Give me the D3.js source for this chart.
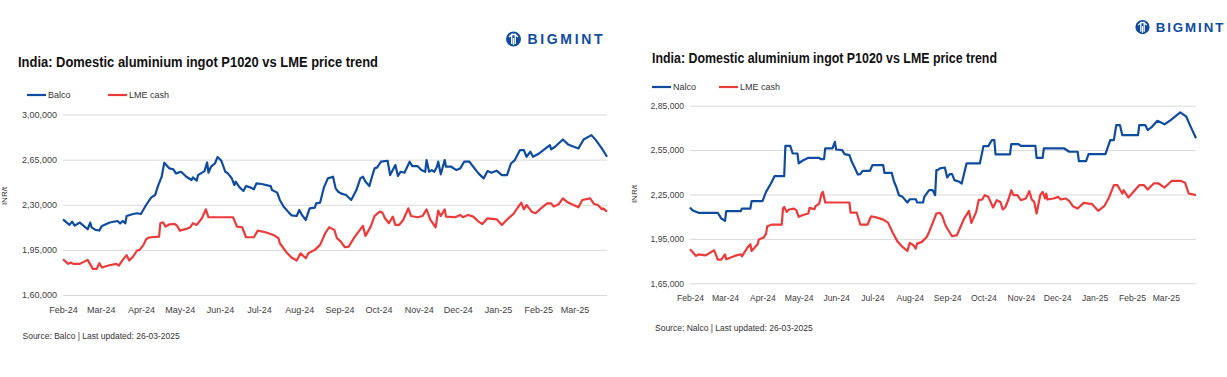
<!DOCTYPE html>
<html>
<head>
<meta charset="utf-8">
<script src="https://cdn.jsdelivr.net/npm/d3@7"></script>
<style>
  body { margin: 0; background: #fff; }
  svg { display: block; font-family: "Liberation Sans", Arial, sans-serif; }
</style>
</head>
<body>
<div id="chart"></div>
<script>
// ---- data ----
const balcoSeries = [
  ["2024-02-01",218700],["2024-02-06",214400],["2024-02-08",216900],["2024-02-10",213800],["2024-02-14",216200],
  ["2024-02-20",211000],["2024-02-22",216200],["2024-02-23",212500],["2024-02-26",210500],["2024-02-29",210000],
  ["2024-03-02",213600],["2024-03-08",216200],["2024-03-14",217400],["2024-03-16",215600],["2024-03-18",217400],
  ["2024-03-20",215600],["2024-03-21",221300],["2024-03-26",222850],["2024-03-29",223400],["2024-04-01",222850],
  ["2024-04-05",229800],["2024-04-09",235750],["2024-04-12",237600],["2024-04-14",244000],["2024-04-17",251750],
  ["2024-04-19",262600],["2024-04-23",258200],["2024-04-26",257400],["2024-04-28",254300],["2024-05-02",255600],
  ["2024-05-06",251750],["2024-05-10",249200],["2024-05-11",251200],["2024-05-14",248650],["2024-05-15",253000],
  ["2024-05-20",256100],["2024-05-22",262800],["2024-05-23",254850],["2024-05-25",259500],["2024-05-28",262000],
  ["2024-05-30",267000],["2024-06-02",264100],["2024-06-05",255600],["2024-06-07",254300],["2024-06-10",250450],
  ["2024-06-12",245300],["2024-06-13",247900],["2024-06-16",243500],["2024-06-19",240700],["2024-06-21",244500],
  ["2024-06-24",243500],["2024-06-27",242000],["2024-06-29",246600],["2024-07-03",246100],["2024-07-10",244500],
  ["2024-07-11",241400],["2024-07-15",239400],["2024-07-17",233700],["2024-07-20",228500],["2024-07-24",223900],
  ["2024-07-26",221800],["2024-07-30",221300],["2024-08-01",226000],["2024-08-03",222100],["2024-08-06",218200],
  ["2024-08-09",227250],["2024-08-13",227800],["2024-08-14",231100],["2024-08-17",231600],["2024-08-20",243500],
  ["2024-08-23",250450],["2024-08-27",251750],["2024-08-29",242700],["2024-08-31",240100],["2024-09-02",238850],
  ["2024-09-06",237600],["2024-09-10",233700],["2024-09-14",241400],["2024-09-17",250450],["2024-09-19",251750],
  ["2024-09-21",247900],["2024-09-24",244500],["2024-09-26",251750],["2024-09-28",258200],["2024-09-30",259000],
  ["2024-10-03",263400],["2024-10-08",264100],["2024-10-10",253000],["2024-10-12",256900],["2024-10-14",260800],
  ["2024-10-16",252300],["2024-10-18",255600],["2024-10-21",254850],["2024-10-25",263400],["2024-10-27",260000],
  ["2024-10-31",260000],["2024-11-03",256900],["2024-11-06",255600],["2024-11-07",264650],["2024-11-09",255600],
  ["2024-11-11",256900],["2024-11-13",255600],["2024-11-15",259500],["2024-11-16",263400],["2024-11-18",253600],
  ["2024-11-21",264650],["2024-11-22",259500],["2024-11-26",259500],["2024-11-30",256900],["2024-12-03",258200],
  ["2024-12-06",263400],["2024-12-10",263400],["2024-12-13",259500],["2024-12-17",254300],["2024-12-21",250450],
  ["2024-12-24",256100],["2024-12-27",254850],["2024-12-31",256400],["2025-01-04",253000],["2025-01-08",253000],
  ["2025-01-11",262000],["2025-01-14",264650],["2025-01-18",272400],["2025-01-21",272400],["2025-01-23",267200],
  ["2025-01-26",271100],["2025-01-28",267200],["2025-02-01",269300],["2025-02-05",272400],["2025-02-10",276250],
  ["2025-02-11",272900],["2025-02-14",275000],["2025-02-20",280650],["2025-02-24",276800],["2025-03-04",273700],
  ["2025-03-08",280650],["2025-03-14",284000],["2025-03-17",280650],["2025-03-22",273700],["2025-03-26",267200]
];

const lmeLeftSeries = [
  ["2024-02-01",187770],["2024-02-05",184150],["2024-02-07",185200],["2024-02-09",184150],["2024-02-14",184150],
  ["2024-02-20",187250],["2024-02-24",180300],["2024-02-27",180300],["2024-02-29",184650],["2024-03-02",181300],
  ["2024-03-07",182850],["2024-03-13",184150],["2024-03-15",182850],["2024-03-18",187250],["2024-03-21",190900],
  ["2024-03-23",186750],["2024-03-26",189850],["2024-03-29",194500],["2024-03-31",195000],["2024-04-03",198900],
  ["2024-04-05",203250],["2024-04-07",204550],["2024-04-09",204800],["2024-04-15",205300],["2024-04-16",215650],
  ["2024-04-18",216400],["2024-04-20",213050],["2024-04-23",214850],["2024-04-27",215100],["2024-04-29",213550],
  ["2024-05-01",209950],["2024-05-06",211250],["2024-05-09",212550],["2024-05-11",215650],["2024-05-14",214350],
  ["2024-05-16",216950],["2024-05-18",219500],["2024-05-21",226450],["2024-05-23",220300],["2024-06-11",220300],
  ["2024-06-14",213050],["2024-06-18",212550],["2024-06-21",204800],["2024-06-27",204800],["2024-06-30",209950],
  ["2024-07-06",208650],["2024-07-12",206600],["2024-07-16",204050],["2024-07-17",200150],["2024-07-22",193200],
  ["2024-07-26",189050],["2024-07-30",186750],["2024-08-02",192350],["2024-08-06",188450],["2024-08-08",192350],
  ["2024-08-13",195000],["2024-08-17",198900],["2024-08-21",207900],["2024-08-24",212550],["2024-08-28",210500],
  ["2024-08-30",204050],["2024-09-02",201450],["2024-09-05",197050],["2024-09-08",197550],["2024-09-12",204050],
  ["2024-09-19",213550],["2024-09-21",205850],["2024-09-25",213050],["2024-09-28",221300],["2024-10-02",224650],
  ["2024-10-04",223900],["2024-10-06",219500],["2024-10-09",215650],["2024-10-12",220800],["2024-10-14",214350],
  ["2024-10-17",214350],["2024-10-20",218200],["2024-10-24",227250],["2024-10-26",221300],["2024-10-31",220300],
  ["2024-11-04",221300],["2024-11-07",226450],["2024-11-10",218200],["2024-11-14",212550],["2024-11-16",225450],
  ["2024-11-18",221300],["2024-11-21",226450],["2024-11-22",220800],["2024-11-29",220300],["2024-12-03",222100],
  ["2024-12-05",220300],["2024-12-09",222100],["2024-12-13",220800],["2024-12-17",216950],["2024-12-20",215100],
  ["2024-12-24",219500],["2024-12-31",218700],["2025-01-04",214350],["2025-01-09",219500],["2025-01-13",222850],
  ["2025-01-15",226000],["2025-01-19",231650],["2025-01-21",226450],["2025-01-23",229800],["2025-01-27",224650],
  ["2025-01-30",223400],["2025-02-04",228000],["2025-02-08",231100],["2025-02-11",231100],["2025-02-13",228550],
  ["2025-02-17",230600],["2025-02-20",235000],["2025-02-24",231650],["2025-03-04",228000],["2025-03-07",233700],
  ["2025-03-13",235000],["2025-03-16",230600],["2025-03-19",229800],["2025-03-22",226450],["2025-03-23",227250],
  ["2025-03-26",224650]
];

const nalcoSeries = [
  ["2024-02-01",216200],["2024-02-03",214400],["2024-02-08",212600],["2024-02-24",212600],["2024-02-27",208750],
  ["2024-03-01",207200],["2024-03-02",213700],["2024-03-14",213700],["2024-03-15",215500],["2024-03-22",215500],
  ["2024-03-23",220500],["2024-04-01",220500],["2024-04-04",226800],["2024-04-08",232400],["2024-04-11",237400],
  ["2024-04-19",237400],["2024-04-20",257900],["2024-04-24",257900],["2024-04-26",252700],["2024-04-30",252700],
  ["2024-05-01",246000],["2024-05-04",247800],["2024-05-09",249800],["2024-05-18",249800],["2024-05-19",248900],
  ["2024-05-22",248900],["2024-05-23",256100],["2024-05-29",256100],["2024-05-31",260600],["2024-06-01",255400],
  ["2024-06-06",255000],["2024-06-08",252300],["2024-06-12",251600],["2024-06-14",247100],["2024-06-16",243700],
  ["2024-06-19",238500],["2024-06-21",238750],["2024-06-23",241000],["2024-06-29",241000],["2024-07-01",244800],
  ["2024-07-10",244800],["2024-07-11",239650],["2024-07-17",239650],["2024-07-19",233600],["2024-07-21",229700],
  ["2024-07-23",224550],["2024-07-26",223400],["2024-07-30",219600],["2024-08-01",221800],["2024-08-06",221800],
  ["2024-08-07",219600],["2024-08-12",219600],["2024-08-13",223400],["2024-08-17",227900],["2024-08-20",227900],
  ["2024-08-22",224550],["2024-08-23",241450],["2024-08-24",241450],["2024-08-26",242600],["2024-08-30",243250],
  ["2024-09-01",236500],["2024-09-03",238750],["2024-09-05",238750],["2024-09-07",234700],["2024-09-11",233600],
  ["2024-09-13",232400],["2024-09-17",246000],["2024-09-28",246000],["2024-10-01",257700],["2024-10-05",257700],
  ["2024-10-08",261800],["2024-10-10",261800],["2024-10-11",252100],["2024-10-23",252100],["2024-10-24",259050],
  ["2024-10-30",259050],["2024-11-01",257900],["2024-11-13",257900],["2024-11-14",249800],["2024-11-19",249800],
  ["2024-11-20",256100],["2024-12-07",256100],["2024-12-11",253900],["2024-12-18",253900],["2024-12-19",247550],
  ["2024-12-25",247550],["2024-12-27",252300],["2025-01-10",252300],["2025-01-14",261800],["2025-01-17",261800],
  ["2025-01-19",271900],["2025-01-22",271900],["2025-01-24",265100],["2025-02-06",265100],["2025-02-07",271900],
  ["2025-02-12",271900],["2025-02-14",268500],["2025-02-17",270300],["2025-02-22",274800],["2025-02-28",272400],
  ["2025-03-05",275300],["2025-03-13",280500],["2025-03-18",277550],["2025-03-21",271900],["2025-03-26",263000]
];

const lmeRightSeries = [
  ["2024-02-01",188000],["2024-02-06",183500],["2024-02-08",184600],["2024-02-14",183900],["2024-02-21",187300],
  ["2024-02-24",181000],["2024-02-27",181000],["2024-03-01",184600],["2024-03-02",181200],["2024-03-09",183500],
  ["2024-03-14",184600],["2024-03-15",183250],["2024-03-20",189550],["2024-03-22",191400],["2024-03-23",186850],
  ["2024-03-28",191400],["2024-03-29",194550],["2024-04-02",195900],["2024-04-04",198600],["2024-04-05",203550],
  ["2024-04-09",204700],["2024-04-17",204700],["2024-04-18",215500],["2024-04-19",216650],["2024-04-21",213250],
  ["2024-04-23",214850],["2024-04-27",215500],["2024-04-29",214400],["2024-05-01",209900],["2024-05-04",211000],
  ["2024-05-09",212150],["2024-05-10",216000],["2024-05-14",215050],["2024-05-15",217100],["2024-05-18",218900],
  ["2024-05-20",225650],["2024-05-21",226800],["2024-05-23",219600],["2024-06-12",219600],["2024-06-13",212800],
  ["2024-06-18",212800],["2024-06-21",204700],["2024-06-27",204700],["2024-06-30",210300],["2024-07-05",209400],
  ["2024-07-10",208050],["2024-07-14",206000],["2024-07-16",202450],["2024-07-18",199050],["2024-07-22",193000],
  ["2024-07-26",189550],["2024-07-30",186850],["2024-08-01",192300],["2024-08-04",190700],["2024-08-06",188450],
  ["2024-08-07",191800],["2024-08-11",193000],["2024-08-15",196350],["2024-08-17",199700],["2024-08-20",205800],
  ["2024-08-23",212150],["2024-08-26",212600],["2024-08-28",210300],["2024-08-30",205350],["2024-08-31",203550],
  ["2024-09-01",202000],["2024-09-05",196800],["2024-09-09",197500],["2024-09-12",203100],["2024-09-15",208750],
  ["2024-09-19",213950],["2024-09-21",205800],["2024-09-25",213250],["2024-09-27",221150],["2024-09-30",221600],
  ["2024-10-02",224550],["2024-10-05",223400],["2024-10-09",216200],["2024-10-12",221150],["2024-10-15",220000],
  ["2024-10-17",214850],["2024-10-19",216200],["2024-10-22",222300],["2024-10-24",227900],["2024-10-26",224550],
  ["2024-10-29",224550],["2024-11-01",221150],["2024-11-05",222300],["2024-11-08",227250],["2024-11-10",221600],
  ["2024-11-12",220000],["2024-11-14",212150],["2024-11-17",224550],["2024-11-19",226800],["2024-11-21",222300],
  ["2024-11-22",225650],["2024-11-23",221600],["2024-11-28",222300],["2024-12-02",223400],["2024-12-04",221600],
  ["2024-12-08",222300],["2024-12-11",220700],["2024-12-14",217100],["2024-12-18",215500],["2024-12-23",219350],
  ["2024-12-30",218450],["2025-01-04",213950],["2025-01-09",217100],["2025-01-13",223000],["2025-01-17",231300],
  ["2025-01-20",231300],["2025-01-22",228400],["2025-01-24",225650],["2025-01-25",227900],["2025-01-29",223000],
  ["2025-02-01",225650],["2025-02-07",231300],["2025-02-11",231300],["2025-02-14",228400],["2025-02-19",232450],
  ["2025-02-23",232450],["2025-02-28",229700],["2025-03-06",234250],["2025-03-13",234250],["2025-03-17",232900],
  ["2025-03-20",225650],["2025-03-26",224550]
];

const leftTicks = [160000, 195000, 230000, 265000, 300000];
const rightTicks = [165000, 195000, 225000, 255000, 285000];
const dateRange = ["2024-02-01", "2025-03-26"];

const titleText = "India: Domestic aluminium ingot P1020 vs LME price trend";
const BLUE = "#0f4c9f";
const RED = "#ec3a3a";

const parseDate = d3.timeParse("%Y-%m-%d");

// Indian digit grouping: 3,00,000
function inrFormat(v) {
  const s = String(Math.round(v));
  const last3 = s.slice(-3);
  const rest = s.slice(0, -3).replace(/\B(?=(\d{2})+(?!\d))/g, ",");
  return rest ? rest + "," + last3 : last3;
}

const svg = d3.select("#chart").append("svg")
  .attr("width", 1227)
  .attr("height", 377);

class PriceChart {
  constructor(_config) {
    this.config = _config;
    this.initVis();
  }

  initVis() {
    let vis = this;
    const c = vis.config;
    vis.g = svg.append("g");

    vis.xScale = d3.scaleTime()
      .domain(dateRange.map(parseDate))
      .range([c.left, c.right]);
    vis.yScale = d3.scaleLinear()
      .domain(c.yDomain)
      .range([c.bottom, c.top]);

    // gridlines + y labels
    const yAxis = d3.axisLeft(vis.yScale)
      .tickValues(c.yTicks)
      .tickSize(-(c.right - c.left))
      .tickPadding(6)
      .tickFormat(inrFormat);
    const yg = vis.g.append("g")
      .attr("transform", `translate(${c.left},0)`)
      .call(yAxis);
    yg.select(".domain").remove();
    yg.selectAll(".tick line").attr("stroke", "#d9d9d9").attr("stroke-width", 1);
    yg.selectAll(".tick text")
      .attr("fill", "#404040")
      .style("font-size", c.tickFont + "px");

    // x labels at month starts
    const xAxis = d3.axisBottom(vis.xScale)
      .tickValues(d3.timeMonth.range(parseDate("2024-02-01"), parseDate("2025-03-02")))
      .tickSize(0)
      .tickPadding(c.xPad)
      .tickFormat(d3.timeFormat("%b-%y"));
    const xg = vis.g.append("g")
      .attr("transform", `translate(0,${c.bottom})`)
      .call(xAxis);
    xg.select(".domain").remove();
    xg.selectAll(".tick text")
      .attr("fill", "#404040")
      .style("font-size", c.tickFont + "px");

    // title
    vis.g.append("text")
      .attr("x", c.titleX)
      .attr("y", c.titleY)
      .attr("textLength", c.titleW)
      .attr("lengthAdjust", "spacingAndGlyphs")
      .style("font-size", c.titleFont + "px")
      .style("font-weight", "bold")
      .attr("fill", "#111")
      .text(titleText);

    // legend
    const legendItems = [
      { name: c.name, color: BLUE, x: c.legendX[0] },
      { name: "LME cash", color: RED, x: c.legendX[1] }
    ];
    const lg = vis.g.selectAll(".legend-item")
      .data(legendItems)
      .enter().append("g")
      .attr("class", "legend-item")
      .attr("transform", d => `translate(${d.x},${c.legendY})`);
    lg.append("line")
      .attr("x1", 0).attr("x2", 19)
      .attr("stroke", d => d.color)
      .attr("stroke-width", 2.2);
    lg.append("text")
      .attr("x", 21)
      .attr("dy", "0.34em")
      .style("font-size", "9px")
      .attr("fill", "#333")
      .text(d => d.name);

    // y axis title
    vis.g.append("text")
      .attr("transform", `translate(${c.unitX},${c.unitY}) rotate(-90)`)
      .attr("text-anchor", "middle")
      .style("font-size", "8px")
      .attr("fill", "#333")
      .text("INR/t");

    // source
    vis.g.append("text")
      .attr("x", c.sourceX)
      .attr("y", c.sourceY)
      .style("font-size", "8.5px")
      .attr("fill", "#333")
      .text(`Source: ${c.name} | Last updated: 26-03-2025`);

    // logo
    const logo = vis.g.append("g")
      .attr("transform", `translate(${c.logoX},${c.logoY}) scale(${c.logoScale})`);
    logo.append("circle").attr("r", 7.5).attr("fill", BLUE);
    logo.append("path")
      .attr("d", "M-4.5,-2 L-1.8,-4.5 L-1.8,5 M4.5,-2 L1.8,-4.5 L1.8,5 M-1.8,-4.5 L1.8,-4.5 M0,-1 L0,6")
      .attr("stroke", "#fff")
      .attr("stroke-width", 1.3)
      .attr("fill", "none");
    logo.append("text")
      .attr("x", 14)
      .attr("dy", "0.36em")
      .attr("textLength", c.logoW)
      .attr("lengthAdjust", "spacing")
      .style("font-size", "14px")
      .style("font-weight", "900")
      .attr("fill", BLUE)
      .text("BIGMINT");

    vis.renderVis();
  }

  renderVis() {
    let vis = this;
    const line = d3.line()
      .x(d => vis.xScale(parseDate(d[0])))
      .y(d => vis.yScale(d[1]));

    vis.g.selectAll(".series")
      .data([{ values: vis.config.lme, color: RED }, { values: vis.config.main, color: BLUE }])
      .enter().append("path")
      .attr("class", "series")
      .attr("d", d => line(d.values))
      .attr("fill", "none")
      .attr("stroke", d => d.color)
      .attr("stroke-width", 2.2)
      .attr("stroke-linejoin", "round");
  }
}

new PriceChart({
  name: "Balco",
  main: balcoSeries, lme: lmeLeftSeries,
  left: 63, right: 607, top: 114.5, bottom: 295,
  yDomain: [160000, 300000], yTicks: leftTicks,
  tickFont: 9, xPad: 12,
  titleX: 18, titleY: 67, titleW: 360, titleFont: 14.5,
  legendX: [27, 108], legendY: 95,
  unitX: 7, unitY: 196,
  sourceX: 22.5, sourceY: 339,
  logoX: 513.5, logoY: 39, logoScale: 1, logoW: 75
});

new PriceChart({
  name: "Nalco",
  main: nalcoSeries, lme: lmeRightSeries,
  left: 690, right: 1196, top: 105.7, bottom: 283.3,
  yDomain: [165000, 285000], yTicks: rightTicks,
  tickFont: 8.6, xPad: 12,
  titleX: 652, titleY: 63, titleW: 345, titleFont: 14,
  legendX: [652, 719], legendY: 87,
  unitX: 637, unitY: 194,
  sourceX: 655, sourceY: 331,
  logoX: 1142.5, logoY: 27, logoScale: 0.95, logoW: 71
});
</script>
</body>
</html>
